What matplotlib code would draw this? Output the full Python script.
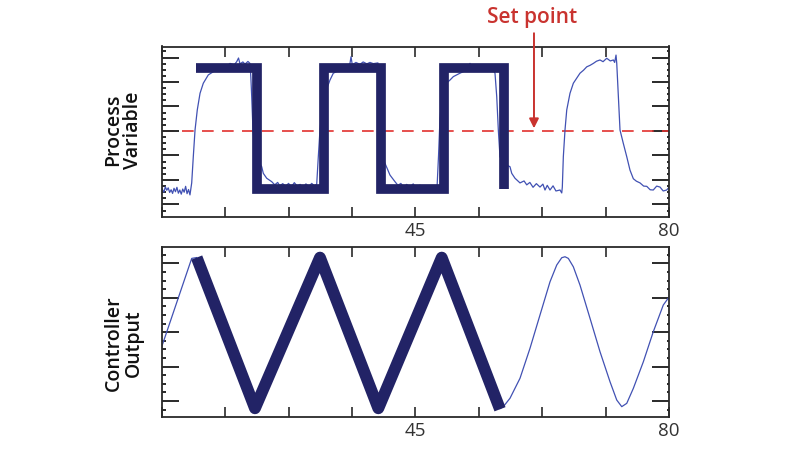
import numpy as np
import matplotlib
matplotlib.use("Agg")
import matplotlib.pyplot as plt

plt.rcParams['font.family'] = ['Open Sans', 'DejaVu Sans']

# ---------------- data ----------------
# Process variable (thin, noisy trace) - time, value
pv_t = [10.04, 10.3, 10.5, 10.7, 10.9, 11.1, 11.3, 11.5, 11.7, 11.9, 12.1, 12.3, 12.5, 12.7,
        12.9, 13.1, 13.3, 13.5, 13.7, 13.9,
        14.14, 14.36, 14.60, 14.91, 15.29, 15.74, 16.43, 17.12, 18.04, 19.0, 19.42, 20.0, 20.35,
        20.6, 20.8, 21.2, 21.5, 21.9, 22.18,
        22.3, 22.42, 22.6, 22.9, 23.3, 23.80, 24.02, 24.49, 25.18,
        25.6, 26.0, 26.3, 26.7, 27.1, 27.5, 27.9, 28.3, 28.7, 29.1, 29.5, 29.9, 30.3, 30.7, 31.1, 31.39,
        31.5, 31.61, 31.84, 32.1, 32.5, 33.22, 33.68, 34.3, 35.06, 35.5, 35.98, 36.12, 36.3, 36.8,
        37.36, 37.8, 38.3, 38.74, 39.2, 39.84,
        40.0, 40.12, 40.3, 40.58, 40.81, 41.50, 42.19,
        42.6, 43.0, 43.4, 43.8, 44.26, 44.7, 45.1, 45.64, 46.1, 46.5, 47.02, 47.5, 47.99,
        48.2, 48.40, 48.7, 49.09, 49.78, 50.24, 51.16, 52.09, 52.54, 52.8, 53.3, 53.92, 54.4, 54.9,
        55.30, 55.7, 55.99,
        56.23, 56.45, 56.68, 57.0, 57.37, 58.06, 58.30, 58.75, 59.44, 60.0, 60.37, 60.8, 61.24, 61.7,
        62.20, 62.6, 62.89, 63.2, 63.58, 64.0, 64.4, 64.96, 65.20,
        65.28, 65.42, 65.65, 65.89, 66.34, 66.80, 67.72, 68.2, 68.65, 69.1, 69.56, 70.0, 70.48, 70.9,
        71.41, 71.9, 72.32, 72.5, 72.69, 72.79,
        73.01, 73.24, 73.69, 74.17, 74.62, 75.08, 75.5, 76.0, 76.5, 76.93, 77.4, 77.83, 78.3, 78.76,
        79.2, 79.68, 80.0]
pv_v = [16.5, 15.0, 17.2, 15.8, 16.8, 14.9, 16.0, 14.5, 16.6, 15.2, 17.0, 14.6, 15.9, 14.2,
        16.3, 15.0, 17.4, 14.4, 16.1, 13.9,
        18.8, 29.5, 40.4, 48.6, 55.4, 59.5, 62.9, 64.2, 66.2, 66.5, 67.6, 67.0, 68.3,
        69.8, 67.4, 68.2, 67.3, 68.4, 67.6,
        62.0, 54.0, 40.0, 32.0, 28.0, 25.4, 22.7, 20.7, 19.3,
        18.0, 19.0, 17.6, 18.5, 17.4, 18.6, 17.2, 18.9, 17.5, 18.2, 16.8, 18.4, 17.3, 18.6, 17.5, 18.3,
        24.0, 29.5, 40.4, 48.0, 55.0, 60.8, 63.6, 64.5, 64.9, 66.0, 67.6, 70.3, 67.0, 68.0,
        67.2, 68.2, 67.4, 68.0, 67.5, 67.8,
        60.0, 48.0, 36.0, 28.0, 26.8, 22.0, 19.3,
        17.8, 18.6, 16.9, 18.2, 17.0, 18.4, 16.6, 17.9, 16.4, 17.7, 16.2, 17.5, 16.8,
        30.0, 45.0, 55.0, 59.0, 60.8, 62.2, 63.6, 64.9, 67.6, 64.5, 65.4, 64.6, 65.6, 64.8,
        65.5, 64.9, 63.6,
        54.0, 40.4, 29.5, 27.5, 26.5, 25.4, 22.7, 20.7, 18.8, 19.6, 18.0, 19.0, 17.0, 18.5,
        17.1, 18.3, 15.9, 17.8, 15.9, 17.6, 15.5, 15.9, 14.7,
        17.1, 29.5, 40.4, 48.6, 55.4, 59.5, 63.6, 64.8, 66.2, 66.8, 67.6, 68.5, 69.0, 68.3,
        69.7, 68.6, 69.0, 68.0, 71.0, 67.6,
        54.0, 40.4, 35.0, 29.5, 24.0, 20.5, 19.5, 18.8, 17.5, 17.4, 16.0, 15.9, 17.5, 17.1,
        15.5, 15.9, 17.0]

# Thick square-wave overlay (process variable)
sq_t = [14.73, 23.11, 23.11, 32.40, 32.40, 40.26, 40.26, 48.95, 48.95, 57.23, 57.23]
sq_v = [65.7, 65.7, 16.5, 16.5, 65.7, 65.7, 16.5, 16.5, 65.7, 65.7, 16.3]
setpoint = 40.0

# Controller output (thin trace) - before and after the thick overlay
co_t1 = [10.0, 14.14, 14.83]
co_v1 = [39.4, 103.6, 104.2]
co_t2 = [56.68, 57.14, 58.06, 59.44, 60.82, 62.20, 63.58, 64.51, 65.20, 65.65, 66.11, 66.80,
         67.72, 69.10, 70.48, 71.86, 72.79, 73.48, 74.17, 75.08, 76.46, 77.83, 79.21, 80.0]
co_v2 = [-5.5, -4.1, 2.0, 16.5, 38.3, 62.5, 86.6, 98.8, 104.1, 104.8, 103.6, 97.5,
         84.2, 60.1, 35.8, 14.0, 0.7, -4.1, -1.7, 9.2, 28.5, 50.3, 69.7, 75.5]

# Thick zigzag overlay (controller output)
zz_t = [14.83, 22.87, 31.84, 39.89, 48.64, 56.68]
zz_v = [104.2, -5.3, 104.2, -5.3, 104.2, -6.0]

xticks = [10, 18.75, 27.5, 36.25, 45, 53.75, 62.5, 71.25, 80]
xticklabels = ['', '', '', '', '45', '', '', '', '80']

THIN = '#4151b3'
THICK = '#222366'
RED = '#e2312f'
RED_TXT = '#c9332f'
AX_COL = '#2a2a2a'

fig = plt.figure(figsize=(8, 4.5), dpi=100)
W, H = 800.0, 450.0
ax1 = fig.add_axes([161.7 / W, 1 - 216.7 / H, 507.3 / W, 170.2 / H])
ax2 = fig.add_axes([161.7 / W, 1 - 416.7 / H, 507.3 / W, 170.0 / H])


def style(ax, majors, minors, ylim):
    ax.set_xlim(10, 80)
    ax.set_ylim(*ylim)
    for s in ax.spines.values():
        s.set_color(AX_COL)
        s.set_linewidth(1.3)
    ax.set_xticks(xticks)
    ax.set_xticklabels(xticklabels)
    ax.tick_params(axis='x', which='both', direction='in', top=True, bottom=True,
                   length=7, width=1.2, color=AX_COL, labelsize=13.5, labelcolor='#333333', pad=4)
    ax.set_yticks(majors)
    ax.set_yticks(minors, minor=True)
    ax.set_yticklabels([])
    ax.tick_params(axis='y', which='major', direction='in', left=True, right=False,
                   length=12, width=1.4, color=AX_COL)
    ax.tick_params(axis='y', which='minor', direction='in', left=True, right=False,
                   length=3, width=1.4, color=AX_COL)
    sec = ax.secondary_yaxis('right')
    sec.set_yticks(majors)
    sec.set_yticks(minors, minor=True)
    sec.set_yticklabels([])
    sec.spines['right'].set_visible(False)
    sec.tick_params(axis='y', which='major', direction='in', length=12, width=1.4, color=AX_COL)
    sec.tick_params(axis='y', which='minor', direction='in', length=1.5, width=1.4, color=AX_COL)


# ---------------- top panel ----------------
maj1 = [10, 20, 30, 40, 50, 60, 70]
min1 = [v for v in np.arange(7.5, 74, 2.5) if v not in maj1]
style(ax1, maj1, min1, (5.0, 74.5))
ax1.axhline(setpoint, color=RED, lw=1.2, dashes=(7, 5), zorder=1)
ax1.plot(pv_t, pv_v, color=THIN, lw=0.9, zorder=2)
ax1.plot(sq_t, sq_v, color=THICK, lw=7.0, solid_joinstyle='miter', solid_capstyle='butt', zorder=3)

ax1.annotate('', xy=(61.37, 41.1), xycoords='data',
             xytext=(61.37, 1.078), textcoords=ax1.get_xaxis_transform(),
             arrowprops=dict(arrowstyle='-|>', color=RED_TXT, lw=1.4,
                             mutation_scale=14, shrinkA=0, shrinkB=0),
             annotation_clip=False)
ax1.text(61.17, 1.173, 'Set point', transform=ax1.get_xaxis_transform(),
         ha='center', va='center', fontsize=15, color=RED_TXT, fontweight='semibold',
         clip_on=False)

# ---------------- bottom panel ----------------
maj2 = [0, 25, 50, 75, 100]
min2 = [v for v in np.arange(-6.25, 112, 6.25) if v not in maj2]
style(ax2, maj2, min2, (-11.4, 112.1))
ax2.plot(co_t1, co_v1, color=THIN, lw=0.9, zorder=2)
ax2.plot(co_t2, co_v2, color=THIN, lw=0.9, zorder=2)
ax2.plot(zz_t, zz_v, color=THICK, lw=8.5, solid_joinstyle='round', solid_capstyle='butt', zorder=3)

# ---------------- axis titles ----------------
fig.text(123 / W, 1 - 130 / H, 'Process\nVariable', rotation=90, ha='center', va='center',
         multialignment='center', fontsize=14, fontweight='semibold', color='#111111',
         linespacing=1.0)
fig.text(124 / W, 1 - 343 / H, 'Controller\nOutput', rotation=90, ha='center', va='center',
         multialignment='center', fontsize=14, fontweight='semibold', color='#111111',
         linespacing=1.0)

fig.savefig('out.png', dpi=100, facecolor='white')
